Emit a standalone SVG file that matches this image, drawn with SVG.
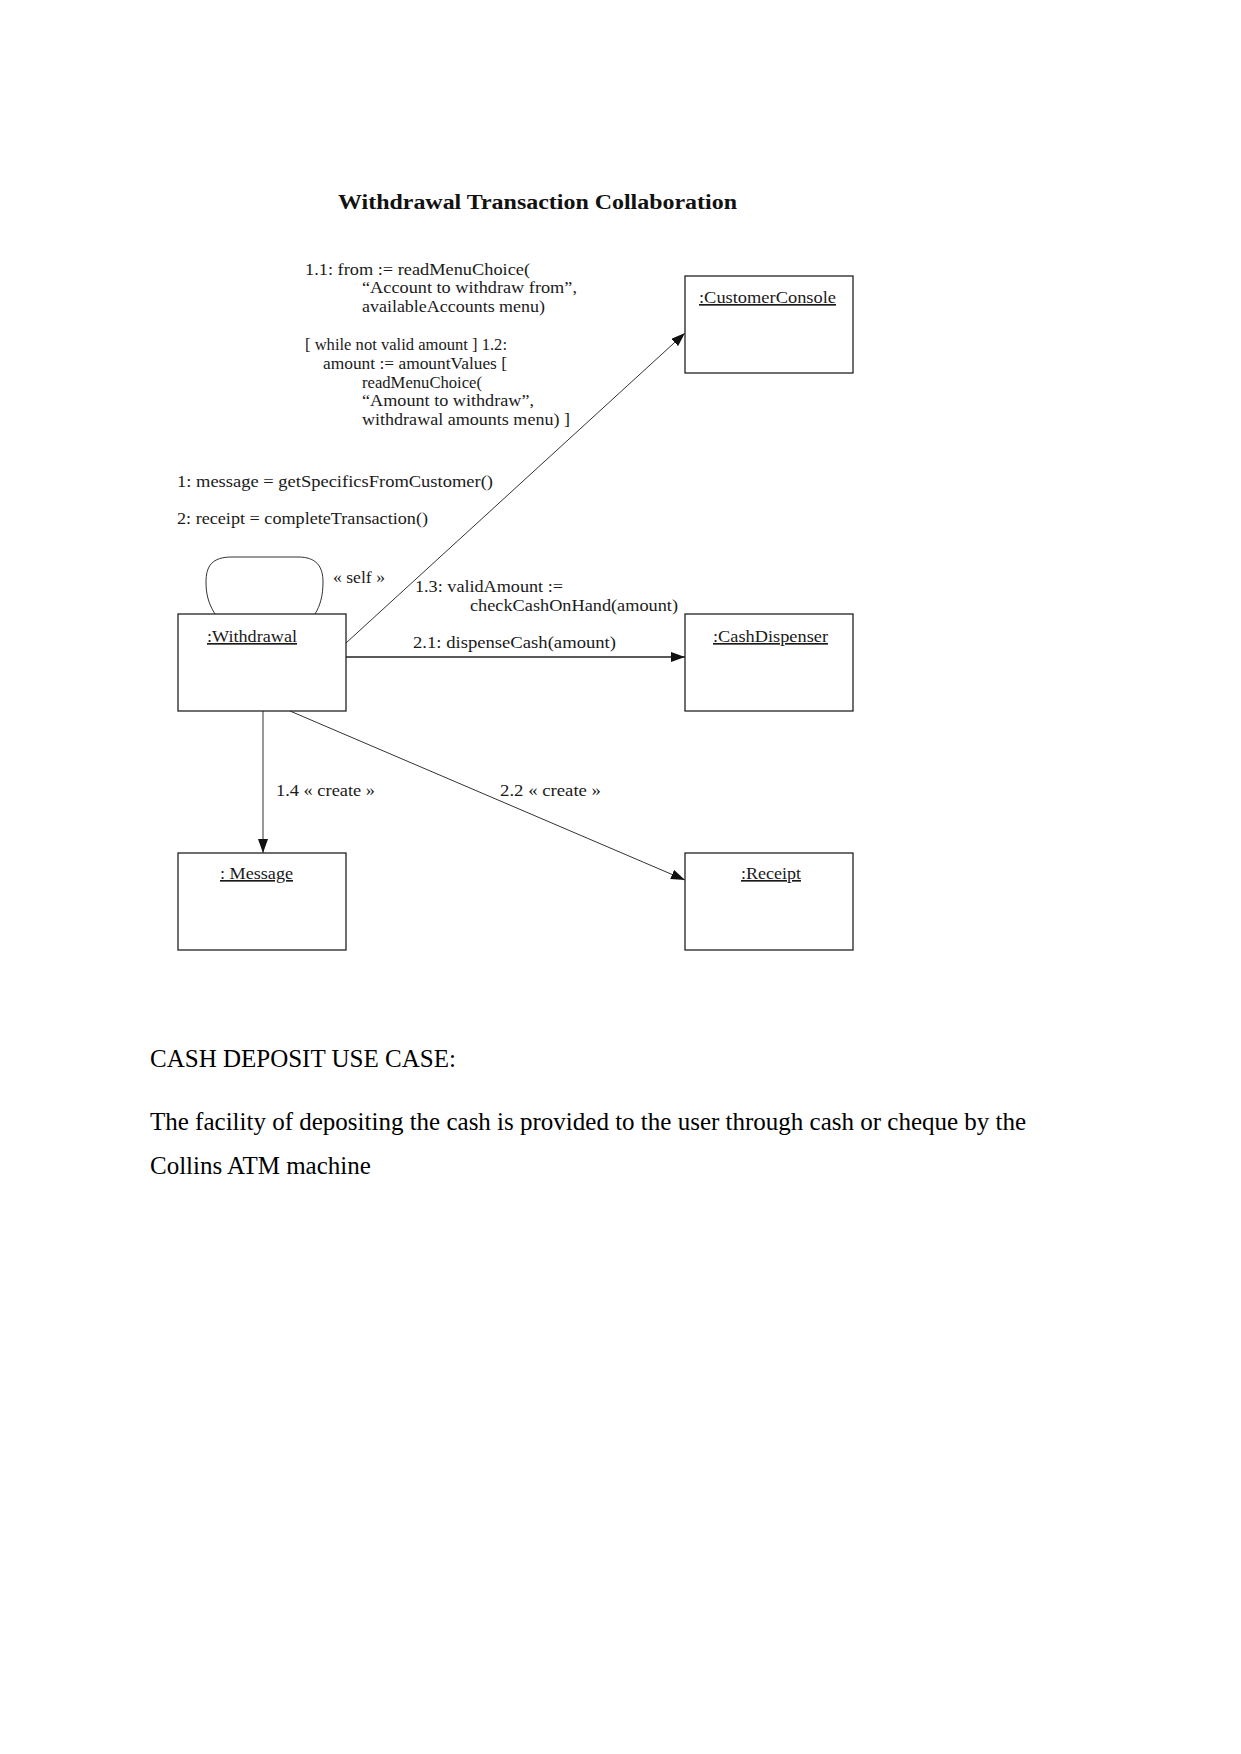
<svg xmlns="http://www.w3.org/2000/svg" width="1241" height="1754" viewBox="0 0 1241 1754">
<style>
.bg{fill:#ffffff}
.box{fill:#ffffff;stroke:#222222;stroke-width:1.3}
.lbl{font-family:"Liberation Serif","Times New Roman",serif;font-size:16.5px;fill:#1a1a1a}
.obj{font-family:"Liberation Serif","Times New Roman",serif;font-size:16.5px;fill:#1a1a1a;text-decoration:underline}
.title{font-family:"Liberation Serif","Times New Roman",serif;font-size:20px;font-weight:bold;fill:#111111}
.body{font-family:"Liberation Serif","Times New Roman",serif;font-size:25px;fill:#000000}
.conn{fill:none;stroke:#333333;stroke-width:1}
.conn2{fill:none;stroke:#222222;stroke-width:1.4}
</style>
<defs>
<marker id="arr" viewBox="0 0 14 10" refX="14" refY="5" markerWidth="14" markerHeight="10" markerUnits="userSpaceOnUse" orient="auto">
<path d="M0,0 L14,5 L0,10 Z" fill="#111111"/>
</marker>
</defs>
<rect class="bg" x="0" y="0" width="1241" height="1754"/>
<text class="title" x="338" y="209" textLength="399" lengthAdjust="spacingAndGlyphs">Withdrawal Transaction Collaboration</text>

<g id="connectors">
<path id="c-self" class="conn" d="M215,614 C208,603 206,593 206,582 C206,566 212,557 232,557 L298,557 C316,557 323,566 323,582 C323,596 320,606 315,614"/>
<line id="c-console" class="conn" x1="346" y1="643" x2="685" y2="333" marker-end="url(#arr)"/>
<line id="c-dispenser" class="conn2" x1="346" y1="657" x2="685" y2="657" marker-end="url(#arr)"/>
<line id="c-message" class="conn" x1="263" y1="711" x2="263" y2="853" marker-end="url(#arr)"/>
<line id="c-receipt" class="conn" x1="290" y1="711" x2="685" y2="880" marker-end="url(#arr)"/>
<text class="lbl" x="305" y="275" textLength="225" lengthAdjust="spacingAndGlyphs">1.1: from := readMenuChoice(</text>
<text class="lbl" x="362" y="293" textLength="215" lengthAdjust="spacingAndGlyphs">“Account to withdraw from”,</text>
<text class="lbl" x="362" y="312" textLength="183" lengthAdjust="spacingAndGlyphs">availableAccounts menu)</text>
<text class="lbl" x="305" y="350" textLength="202" lengthAdjust="spacingAndGlyphs">[ while not valid amount ] 1.2:</text>
<text class="lbl" x="323" y="369" textLength="184" lengthAdjust="spacingAndGlyphs">amount := amountValues [</text>
<text class="lbl" x="362" y="388" textLength="120" lengthAdjust="spacingAndGlyphs">readMenuChoice(</text>
<text class="lbl" x="362" y="406" textLength="172" lengthAdjust="spacingAndGlyphs">“Amount to withdraw”,</text>
<text class="lbl" x="362" y="425" textLength="208" lengthAdjust="spacingAndGlyphs">withdrawal amounts menu) ]</text>
<text class="lbl" x="177" y="487" textLength="316" lengthAdjust="spacingAndGlyphs">1: message = getSpecificsFromCustomer()</text>
<text class="lbl" x="177" y="524" textLength="251" lengthAdjust="spacingAndGlyphs">2: receipt = completeTransaction()</text>
<text class="lbl" x="333" y="583" textLength="52" lengthAdjust="spacingAndGlyphs">« self »</text>
<text class="lbl" x="415" y="592" textLength="148" lengthAdjust="spacingAndGlyphs">1.3: validAmount :=</text>
<text class="lbl" x="470" y="611" textLength="208" lengthAdjust="spacingAndGlyphs">checkCashOnHand(amount)</text>
<text class="lbl" x="413" y="648" textLength="203" lengthAdjust="spacingAndGlyphs">2.1: dispenseCash(amount)</text>
<text class="lbl" x="276" y="796" textLength="99" lengthAdjust="spacingAndGlyphs">1.4 « create »</text>
<text class="lbl" x="500" y="796" textLength="101" lengthAdjust="spacingAndGlyphs">2.2 « create »</text>
</g>

<g id="n-console">
<rect class="box" x="685" y="276" width="168" height="97"/>
<text class="obj" x="699" y="303" textLength="137" lengthAdjust="spacingAndGlyphs">:CustomerConsole</text>
</g>
<g id="n-withdrawal">
<rect class="box" x="178" y="614" width="168" height="97"/>
<text class="obj" x="207" y="642" textLength="90" lengthAdjust="spacingAndGlyphs">:Withdrawal</text>
</g>
<g id="n-dispenser">
<rect class="box" x="685" y="614" width="168" height="97"/>
<text class="obj" x="713" y="642" textLength="115" lengthAdjust="spacingAndGlyphs">:CashDispenser</text>
</g>
<g id="n-message">
<rect class="box" x="178" y="853" width="168" height="97"/>
<text class="obj" x="220" y="879" textLength="73" lengthAdjust="spacingAndGlyphs">: Message</text>
</g>
<g id="n-receipt">
<rect class="box" x="685" y="853" width="168" height="97"/>
<text class="obj" x="741" y="879" textLength="60" lengthAdjust="spacingAndGlyphs">:Receipt</text>
</g>

<text class="body" x="150" y="1067">CASH DEPOSIT USE CASE:</text>
<text class="body" x="150" y="1130">The facility of depositing the cash is provided to the user through cash or cheque by the</text>
<text class="body" x="150" y="1174">Collins ATM machine</text>
</svg>
